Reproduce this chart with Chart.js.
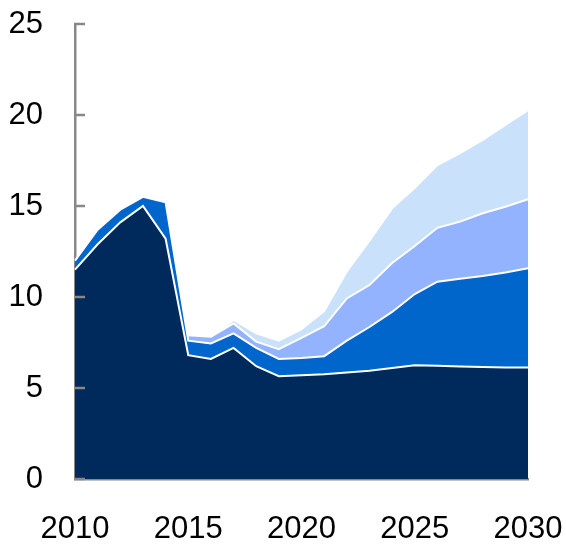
<!DOCTYPE html>
<html>
<head>
<meta charset="utf-8">
<script src="https://cdn.jsdelivr.net/npm/chart.js@4/dist/chart.umd.min.js"></script>
<style>
  html, body { margin: 0; padding: 0; background: #fff; }
  #wrap { width: 566px; height: 544px; }
</style>
</head>
<body>
<div id="wrap"><canvas id="c" width="566" height="544"></canvas></div>
<script>
const years = [2010,2011,2012,2013,2014,2015,2016,2017,2018,2019,2020,2021,2022,2023,2024,2025,2026,2027,2028,2029,2030];
const yTicks = [0, 5, 10, 15, 20, 25];
const seriesNavy = [11.5,12.9,14.1,15.0,13.2,6.8,6.6,7.2,6.2,5.65,5.7,5.75,5.85,5.95,6.1,6.25,6.22,6.18,6.15,6.13,6.12];
const seriesBlue = [0.5,0.8,0.7,0.5,2.0,0.8,0.85,0.8,1.0,0.95,0.95,1.0,1.75,2.4,3.08,3.91,4.62,4.82,5.0,5.22,5.46];
const seriesPeri = [null,null,null,null,null,0.3,0.37,0.55,0.35,0.53,1.1,1.65,2.32,2.31,2.69,2.64,2.96,3.14,3.45,3.61,3.79];
const seriesLight = [null,null,null,null,null,null,0.0,0.19,0.45,0.47,0.49,0.83,1.48,2.44,3.0,3.2,3.45,3.76,4.03,4.49,4.9];

const colors = ['#002A5C', '#0066CC', '#94B3FE', '#C9E1FA'];

const tickMarks = {
  id: 'tickMarks',
  afterDatasetsDraw(chart) {
    const ctx = chart.ctx;
    const y = chart.scales.y;
    const left = chart.chartArea.left;
    ctx.save();
    ctx.strokeStyle = '#888888';
    ctx.lineWidth = 2.5;
    y.ticks.forEach((t, i) => {
      const py = y.getPixelForTick(i);
      ctx.beginPath();
      ctx.moveTo(left - 1, py);
      ctx.lineTo(left + 10, py);
      ctx.stroke();
    });
    ctx.restore();
  }
};

function ds(data, idx) {
  return {
    data: data,
    backgroundColor: colors[idx],
    borderColor: '#ffffff',
    borderWidth: 2,
    pointRadius: 0,
    tension: 0,
    fill: idx === 0 ? 'origin' : '-1'
  };
}

new Chart(document.getElementById('c'), {
  type: 'line',
  data: {
    labels: years,
    datasets: [ds(seriesNavy,0), ds(seriesBlue,1), ds(seriesPeri,2), ds(seriesLight,3)]
  },
  options: {
    responsive: false,
    animation: false,
    layout: { padding: { top: 24, right: 38, left: 0, bottom: 0 } },
    plugins: { legend: { display: false }, tooltip: { enabled: false } },
    scales: {
      x: {
        z: 1,
        offset: false,
        grid: { display: false, drawTicks: false },
        border: { display: true, color: '#888888', width: 2.5 },
        ticks: {
          autoSkip: false,
          maxRotation: 0,
          padding: 32,
          color: '#000',
          font: { family: "'Liberation Sans', Arial, sans-serif", size: 31 },
          callback: (v, i) => (years[i] % 5 === 0 ? String(years[i]) : '')
        },
        afterFit: s => { s.height = 65; s.paddingLeft = 0; s.paddingRight = 0; }
      },
      y: {
        z: 1,
        stacked: true,
        min: 0,
        max: 25,
        afterBuildTicks: s => { s.ticks = yTicks.map(v => ({ value: v })); },
        grid: { display: false, drawTicks: false },
        border: { display: true, color: '#888888', width: 2.5 },
        ticks: {
          padding: 32,
          color: '#000',
          font: { family: "'Liberation Sans', Arial, sans-serif", size: 31 }
        },
        afterFit: s => { s.width = 75; s.paddingTop = 0; s.paddingBottom = 0; }
      }
    }
  },
  plugins: [tickMarks]
});
</script>
</body>
</html>
